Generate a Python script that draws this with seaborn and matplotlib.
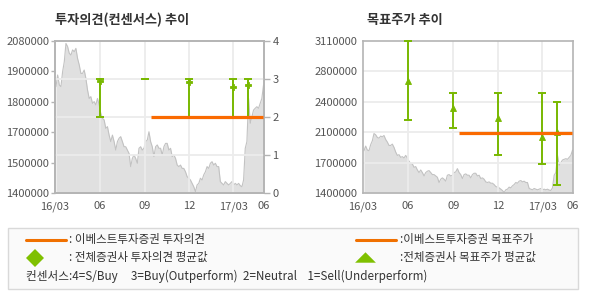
import numpy as np
import pandas as pd
import matplotlib
matplotlib.use('Agg')
import matplotlib.pyplot as plt
from matplotlib.lines import Line2D
from matplotlib.patches import Rectangle
import seaborn as sns

# ---------------- data ----------------
price = [1876000, 1928000, 1883000, 1876000, 1943000, 1987000, 2069000, 2055000, 2025000, 2017000,
         2040000, 2032000, 2047000, 2002000, 1973000, 1935000, 1935000, 1950000, 1913000, 1861000,
         1823000, 1831000, 1801000, 1809000, 1794000, 1823000, 1794000, 1756000, 1734000, 1727000,
         1689000, 1697000, 1659000, 1630000, 1659000, 1630000, 1592000, 1630000, 1645000, 1652000,
         1630000, 1607000, 1607000, 1592000, 1577000, 1518000, 1555000, 1570000, 1555000, 1533000,
         1600000, 1607000, 1592000, 1600000, 1630000, 1637000, 1674000, 1630000, 1607000, 1563000,
         1607000, 1615000, 1600000, 1600000, 1570000, 1607000, 1622000, 1622000, 1592000, 1600000,
         1563000, 1570000, 1555000, 1525000, 1518000, 1525000, 1510000, 1510000, 1495000, 1473000,
         1466000, 1458000, 1443000, 1428000, 1406000, 1436000, 1443000, 1466000, 1458000, 1481000,
         1495000, 1518000, 1510000, 1533000, 1540000, 1525000, 1533000, 1518000, 1518000, 1451000,
         1443000, 1436000, 1451000, 1443000, 1436000, 1443000, 1451000, 1436000, 1443000, 1436000,
         1443000, 1433000, 1428000, 1458000, 1600000, 1630000, 1823000, 1712000, 1741000, 1771000,
         1779000, 1786000, 1779000, 1801000, 1823000, 1883000]
price_start, price_end = '2016-03-03', '2017-05-02'
x_start, x_end = '2016-03-01', '2017-05-03'
tick_dates = ['2016-03-01', '2016-06-01', '2016-09-01', '2016-12-01', '2017-03-01', '2017-05-03']
tick_labels = ['16/03', '06', '09', '12', '17/03', '06']

bar_dates = ['2016-06-01', '2016-09-01', '2016-12-01', '2017-03-01', '2017-04-01']
opinion_mean = [2.96, np.nan, 2.92, 2.80, 2.85]
opinion_high = [3, 3, 3, 3, 3]
opinion_low = [2, 3, 2, 2, 2]
own_opinion = 2
own_span = ['2016-09-13', '2017-05-01']

target_mean = [2660000, 2360000, 2240000, 2030000, 2085000]
target_high = [3110000, 2520000, 2520000, 2520000, 2420000]
target_low = [2220000, 2130000, 1830000, 1730000, 1490000]
own_target = 2075000

left_ylim = (1400000, 2080000)
left_ylabels = ['1400000', '1500000', '1700000', '1800000', '1900000', '2080000']
right_ylim = (1400000, 3110000)
right_ylabels = ['1400000', '1700000', '2100000', '2400000', '2800000', '3110000']
opinion_ticks = [0, 1, 2, 3, 4]

title_left = '투자의견(컨센서스) 추이'
title_right = '목표주가 추이'
legend_rows = [': 이베스트투자증권 투자의견', ':이베스트투자증권 목표주가',
               ': 전체증권사 투자의견 평균값', ':전체증권사 목표주가 평균값']
consensus_note = '컨센서스:4=S/Buy     3=Buy(Outperform)  2=Neutral    1=Sell(Underperform)'

# ---------------- style ----------------
sns.set_theme(style='white')
plt.rcParams['font.family'] = ['Noto Sans CJK KR', 'DejaVu Sans']

ORANGE = '#fa6a00'
GREEN = '#78b800'
SPINE = '#b4b4b4'
GRID = '#ececec'
TXT = '#555555'
AREA = '#e0e0e0'
EDGE = '#c2c2c2'

W, H = 590, 300
fig = plt.figure(figsize=(W / 100, H / 100), dpi=100)
fig.patch.set_facecolor('white')


def px(x0, y0, x1, y1):
    return [x0 / W, 1 - y1 / H, (x1 - x0) / W, (y1 - y0) / H]


df = pd.DataFrame({'date': pd.date_range(price_start, price_end, periods=len(price)),
                   'price': price})
xt = pd.to_datetime(tick_dates)
bd = pd.to_datetime(bar_dates)
sp = pd.to_datetime(own_span)


def style_axis(ax):
    for s in ax.spines.values():
        s.set_color(SPINE)
        s.set_linewidth(1.2)
    ax.tick_params(colors=SPINE, labelcolor=TXT, labelsize=8, length=3, width=1, pad=1)
    ax.set_xlabel('')
    ax.set_ylabel('')


def price_area(ax, ylim):
    ax.fill_between(df['date'], df['price'], ylim[0], color=AREA, lw=0, zorder=1)
    sns.lineplot(data=df, x='date', y='price', ax=ax, color=EDGE, lw=0.8, zorder=1.2)
    ax.set_xlim(pd.Timestamp(x_start), pd.Timestamp(x_end))
    ax.set_ylim(*ylim)
    ax.set_xticks(xt)
    ax.set_xticklabels(tick_labels)
    for d in xt[1:-1]:
        ax.axvline(d, color=GRID, lw=1.3, zorder=1.5)


# ---------------- left chart ----------------
axL = fig.add_axes(px(55, 41, 264, 193))
price_area(axL, left_ylim)
axL.set_yticks(np.linspace(left_ylim[0], left_ylim[1], len(left_ylabels)))
axL.set_yticklabels(left_ylabels)
style_axis(axL)
axL.tick_params(axis='x', pad=3)

axR = axL.twinx()
axR.set_ylim(0, 4)
axR.set_yticks(opinion_ticks)
axR.set_yticklabels([str(t) for t in opinion_ticks])
for t in opinion_ticks[1:-1]:
    axR.axhline(t, color=GRID, lw=1.3, zorder=1)
lo = np.array(opinion_low, float)
hi = np.array(opinion_high, float)
mid = (lo + hi) / 2
axR.errorbar(bd, mid, yerr=[mid - lo, hi - mid], fmt='none', ecolor=GREEN,
             elinewidth=1.4, capsize=3.2, capthick=1.4, zorder=3)
axR.plot(bd, opinion_mean, ls='none', marker='P', ms=4.6, color=GREEN, mew=0.6, zorder=3.5)
axR.plot(sp, [own_opinion, own_opinion], color=ORANGE, lw=2.3, zorder=4,
         solid_capstyle='butt')
style_axis(axR)
axR.tick_params(axis='y', length=4, pad=2)

# ---------------- right chart ----------------
ax2 = fig.add_axes(px(363, 41, 573, 193))
price_area(ax2, right_ylim)
yt = np.linspace(right_ylim[0], right_ylim[1], len(right_ylabels))
ax2.set_yticks(yt)
ax2.set_yticklabels(right_ylabels)
for v in yt[1:-1]:
    ax2.axhline(v, color=GRID, lw=1.3, zorder=1.5)
tl = np.array(target_low, float)
th = np.array(target_high, float)
tm = (tl + th) / 2
ax2.errorbar(bd, tm, yerr=[tm - tl, th - tm], fmt='none', ecolor=GREEN,
             elinewidth=1.4, capsize=3.2, capthick=1.4, zorder=3, clip_on=False)
ax2.plot(bd, target_mean, ls='none', marker='^', ms=4.2, color=GREEN, mew=0.6, zorder=3.5)
ax2.plot(sp, [own_target, own_target], color=ORANGE, lw=2.3, zorder=4,
         solid_capstyle='butt')
style_axis(ax2)
ax2.tick_params(axis='x', pad=3)

# ---------------- titles ----------------
fig.text(55 / W, 1 - 20 / H, title_left, fontsize=9.5, weight='bold', color='#333333',
         va='center', ha='left')
fig.text(367 / W, 1 - 20 / H, title_right, fontsize=9.5, weight='bold', color='#333333',
         va='center', ha='left')

# ---------------- legend box ----------------
fig.patches.append(Rectangle((8 / W, 1 - 289 / H), (578 - 8) / W, (289 - 228) / H,
                             transform=fig.transFigure, facecolor='#fafafa',
                             edgecolor='#d9d9d9', lw=1, zorder=0))
r1, r2, r3 = 1 - 240 / H, 1 - 257.5 / H, 1 - 276 / H
for x0, x1 in [(26, 66), (356, 396)]:
    fig.lines.append(Line2D([x0 / W, x1 / W], [r1, r1], transform=fig.transFigure,
                            color='#f07000', lw=2.2))
fig.lines.append(Line2D([35 / W], [r2], transform=fig.transFigure, ls='none',
                        marker='D', ms=9.5, color='#7fc000', mew=0))
tri = [(-1, -0.5), (1, -0.5), (0, 0.5)]
fig.lines.append(Line2D([365 / W], [r2 + 1 / H], transform=fig.transFigure, ls='none',
                        marker=tri, ms=15, color='#7fc000', mew=0))
fig.text(69 / W, r1, legend_rows[0], fontsize=8.3, color='#333333', va='center')
fig.text(400 / W, r1, legend_rows[1], fontsize=8.3, color='#333333', va='center')
fig.text(69 / W, r2, legend_rows[2], fontsize=8.3, color='#333333', va='center')
fig.text(400 / W, r2, legend_rows[3], fontsize=8.3, color='#333333', va='center')
fig.text(26 / W, r3, consensus_note, fontsize=8.4, color='#333333', va='center')

fig.savefig('out.png', dpi=100, facecolor='white')
